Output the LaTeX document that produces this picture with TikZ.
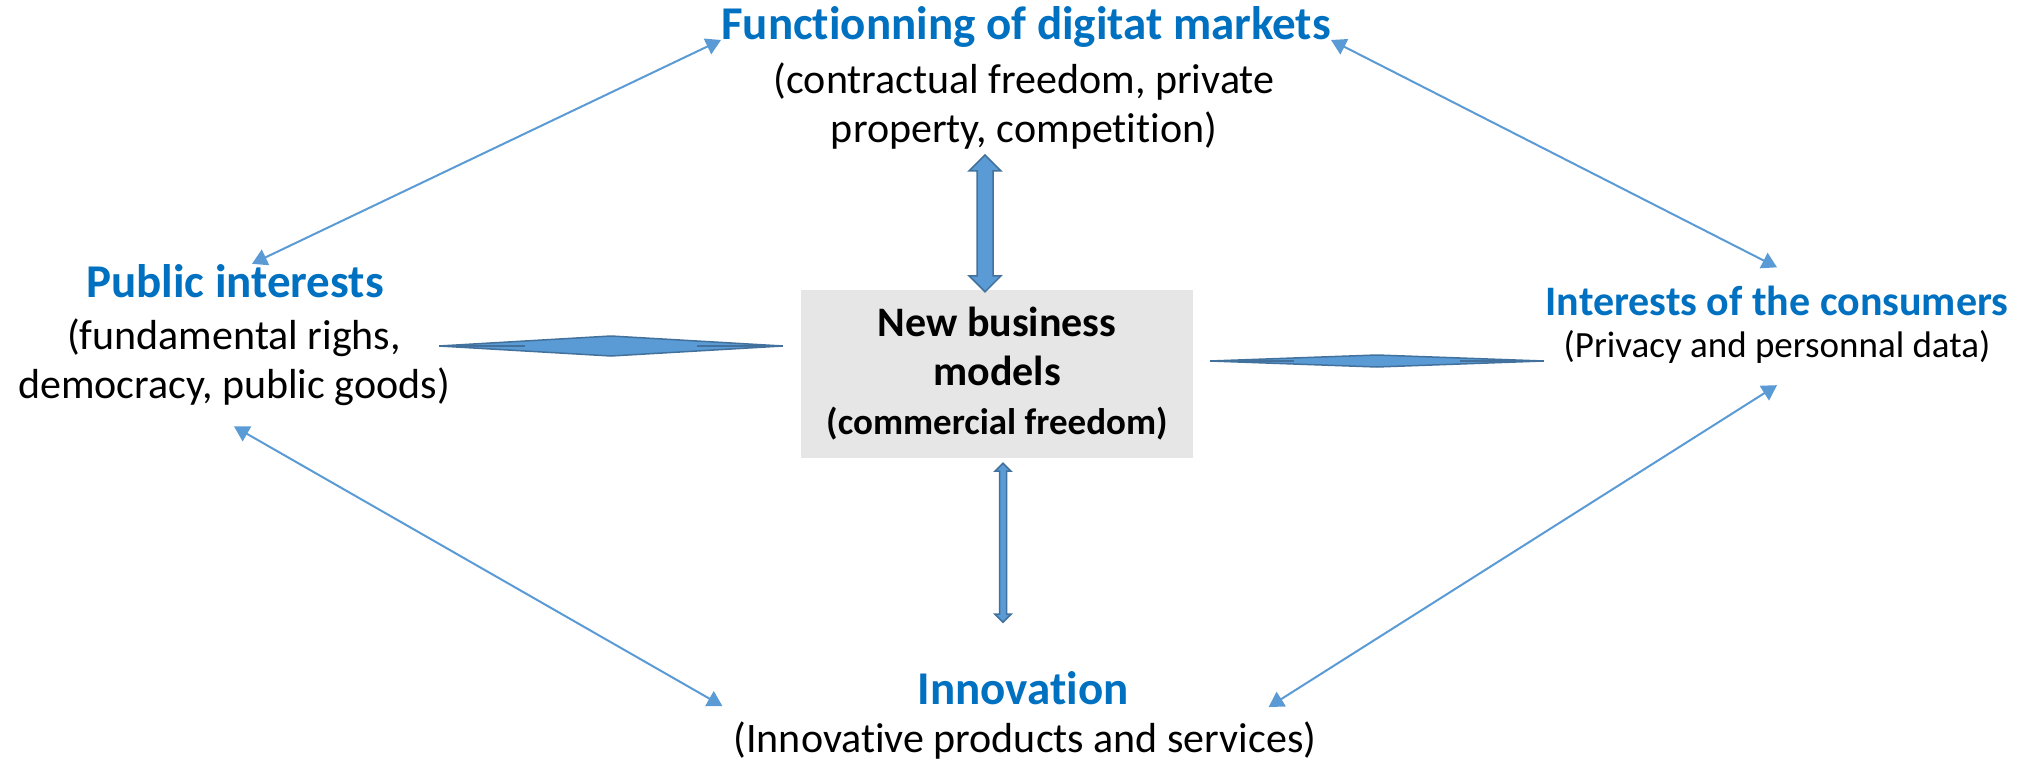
\documentclass[tikz,border=0pt]{standalone}
\usepackage{fontspec}
\setmainfont{Carlito}[Ligatures=NoCommon]
\usetikzlibrary{arrows.meta,calc,positioning}

\definecolor{headblue}{HTML}{0070C0}
\definecolor{linkblue}{HTML}{5B9BD5}
\definecolor{edgeblue}{HTML}{41719C}
\definecolor{boxgray}{HTML}{E7E6E6}

\newcommand{\headfont}{\fontsize{47}{56}\bfseries\selectfont}
\newcommand{\bodyfont}{\fontsize{42}{49}\selectfont}
\newcommand{\smallfont}{\fontsize{37}{44}\selectfont}

% #1 top tip, #2 bottom tip, #3 half shaft, #4 half head, #5 head length
\newcommand{\vblock}[5]{%
  \draw[blockarrow] (#1) -- ++(#4,-#5) -- ++(-#4+#3,0) -- ([shift={(#3,#5)}]#2)
    -- ++(#4-#3,0) -- (#2) -- ++(-#4,#5) -- ++(#4-#3,0)
    -- ([shift={(-#3,-#5)}]#1) -- ++(-#4+#3,0) -- cycle;}
% #1 left tip, #2 right tip, #3 half height
\newcommand{\hdiamond}[3]{%
  \draw[blockarrow] (#1) -- ($(#1)!0.5!(#2)+(0,#3)$) -- (#2)
    -- ($(#1)!0.5!(#2)-(0,#3)$) -- cycle;
  \draw[edgeblue, line width=1.5pt] (#1) -- ($(#1)!0.25!(#2)$)
    (#2) -- ($(#2)!0.25!(#1)$);}

\begin{document}
\begin{tikzpicture}[x=1pt,y=1pt,
    every node/.style={inner sep=0pt},
    head/.style={text=headblue, font=\headfont},
    body/.style={font=\bodyfont, align=center},
    link/.style={draw=linkblue, line width=2pt,
      {Triangle[length=15pt,width=17pt]}-{Triangle[length=15pt,width=17pt]}},
    blockarrow/.style={fill=linkblue, draw=edgeblue, line width=1.5pt, line join=miter}]
  \useasboundingbox (0,0) rectangle (2026,-762);

  % base of a two-line node is its last line
  \node[head, anchor=base] (mkt) at (1026,-40) {Functionning of digitat markets};
  \node[body, anchor=base] (mktsub) at (1024,-143) {(contractual freedom, private\\property, competition)};

  \node[head, anchor=base] (pub) at (235,-297) {Public interests};
  \node[body, anchor=base] (pubsub) at (234,-398) {(fundamental righs,\\democracy, public goods)};

  \node[head, font=\fontsize{42}{50}\bfseries\selectfont, anchor=base] (cons) at (1777,-315) {Interests of the consumers};
  \node[font=\smallfont, anchor=base] (conssub) at (1777,-357) {(Privacy and personnal data)};

  \node[head, anchor=base] (innov) at (1023,-704) {Innovation};
  \node[body, anchor=base] (innovsub) at (1025,-752) {(Innovative products and services)};

  \node[fill=boxgray, minimum width=392, minimum height=168, align=center,
        font=\fontsize{42}{49}\bfseries\selectfont] (bm) at (997,-374)
        {New business\\models\\{\fontsize{37}{44}\bfseries\selectfont (commercial freedom)}};

  % links between the four fields
  \draw[link] ([xshift=17pt]pub.north) -- (mkt.base west);
  \draw[link] (mkt.base east) -- ([yshift=18pt]cons.north);
  \draw[link] ([yshift=-21pt]pubsub.south) -- ([shift={(-11,15)}]innovsub.north west);
  \draw[link] ([yshift=-22pt]conssub.south) -- ([shift={(-48,14)}]innovsub.north east);

  % block arrows round the box
  \coordinate (upB) at ([shift={(-12,-2)}]bm.north);
  \coordinate (upT) at ([yshift=-5pt]upB |- mktsub.south);
  \vblock{upT}{upB}{8}{16}{16}
  \coordinate (dnT) at ([shift={(6,-5)}]bm.south);
  \coordinate (dnB) at ([yshift=-164pt]bm.south -| dnT);
  \vblock{dnT}{dnB}{3.5}{8}{8}
  \coordinate (lfR) at ([shift={(-18,28)}]bm.west);
  \coordinate (lfL) at ([xshift=-11pt]pubsub.east |- lfR);
  \hdiamond{lfL}{lfR}{10}
  \coordinate (rtL) at ([shift={(17,13)}]bm.east);
  \coordinate (rtR) at ([xshift=-20pt]conssub.west |- rtL);
  \hdiamond{rtL}{rtR}{6}
\end{tikzpicture}
\end{document}
